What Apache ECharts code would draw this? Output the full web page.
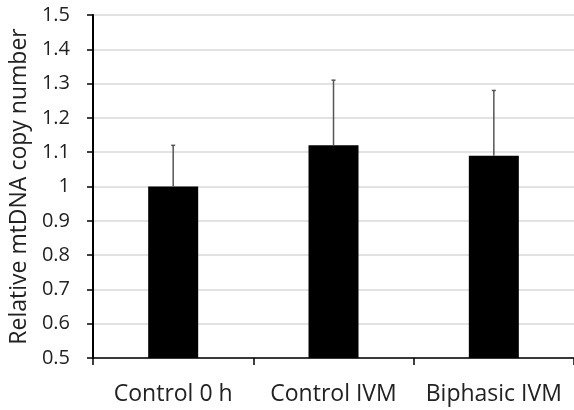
<!DOCTYPE html>
<html>
<head>
<meta charset="utf-8">
<script src="https://cdn.jsdelivr.net/npm/echarts@6/dist/echarts.min.js"></script>
<style>
  html, body { margin: 0; padding: 0; background: #fff; }
  #chart { width: 574px; height: 410px; }
</style>
</head>
<body>
<div id="chart"></div>
<script>
const categories = ['Control 0 h', 'Control IVM', 'Biphasic IVM']
const means = [1.0, 1.12, 1.09]
const errors = [0.12, 0.19, 0.19]

const font = '"Open Sans", Lato, sans-serif'
const chart = echarts.init(document.getElementById('chart'))

const errData = means.map((m, i) => [i, m, m + errors[i]])

chart.setOption({
    animation: false,
    grid: { left: 93, top: 15, width: 487, height: 343 },
    xAxis: {
        type: 'category',
        data: categories,
        axisLine: { lineStyle: { color: '#000', width: 1.5 } },
        axisTick: { show: true, length: 7, lineStyle: { color: '#000', width: 1.5 } },
        axisLabel: {
            color: '#222', fontFamily: font, fontSize: 23, margin: 25,
            interval: 0, hideOverlap: false
        }
    },
    yAxis: {
        type: 'value',
        min: 0.5,
        max: 1.5,
        interval: 0.1,
        name: 'Relative mtDNA copy number',
        nameLocation: 'middle',
        nameGap: 58,
        nameTextStyle: { color: '#222', fontFamily: font, fontSize: 23 },
        axisLine: { show: true, lineStyle: { color: '#000', width: 2 } },
        axisTick: { show: true, length: 6, lineStyle: { color: '#000', width: 1.5 } },
        axisLabel: {
            color: '#222', fontFamily: font, fontSize: 20, margin: 23,
            formatter: v => String(Math.round(v * 10) / 10)
        },
        splitLine: { lineStyle: { color: '#d9d9d9', width: 1.5 } }
    },
    series: [
        {
            type: 'bar',
            data: means,
            barWidth: 50,
            itemStyle: { color: '#000' }
        },
        {
            type: 'custom',
            data: errData,
            z: 3,
            renderItem: (params, api) => {
                const x = api.value(0)
                const lo = api.coord([x, api.value(1)])
                const hi = api.coord([x, api.value(2)])
                const style = { stroke: '#555', lineWidth: 1.5 }
                return {
                    type: 'group',
                    children: [
                        { type: 'line', shape: { x1: lo[0], y1: lo[1], x2: hi[0], y2: hi[1] }, style },
                        { type: 'line', shape: { x1: hi[0] - 2, y1: hi[1], x2: hi[0] + 2, y2: hi[1] }, style }
                    ]
                }
            }
        }
    ]
})
</script>
</body>
</html>
